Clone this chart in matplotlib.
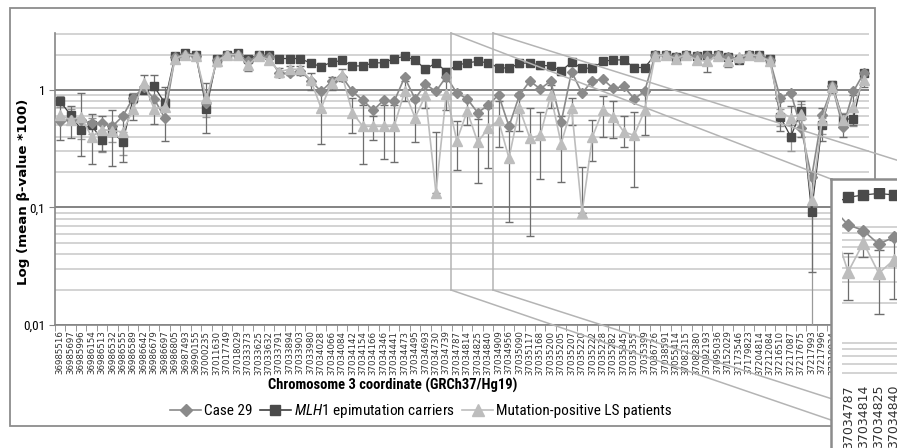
import matplotlib
matplotlib.use("Agg")
import matplotlib.pyplot as plt
import numpy as np
from matplotlib.lines import Line2D
from matplotlib.patches import Rectangle
from matplotlib.ticker import FixedLocator, LogLocator, NullFormatter

plt.rcParams['font.family'] = ['Roboto Condensed', 'Lato', 'DejaVu Sans']
plt.rcParams['mathtext.fontset'] = 'custom'
plt.rcParams['mathtext.it'] = 'Roboto Condensed:italic'
plt.rcParams['mathtext.rm'] = 'Roboto Condensed'

# CpG positions on chromosome 3 (last four are hidden behind the zoom box)
coords = [36985516, 36985697, 36985996, 36986154, 36986513, 36986532, 36986555, 36986589,
          36986642, 36986679, 36986697, 36986805, 36987493, 36990155, 37000235, 37011630,
          37017749, 37018029, 37033373, 37033625, 37033632, 37033791, 37033894, 37033903,
          37033980, 37034028, 37034066, 37034084, 37034142, 37034154, 37034166, 37034346,
          37034441, 37034473, 37034495, 37034693, 37034730, 37034739, 37034787, 37034814,
          37034825, 37034840, 37034909, 37034956, 37035090, 37035117, 37035168, 37035200,
          37035205, 37035207, 37035220, 37035222, 37035228, 37035282, 37035345, 37035355,
          37035399, 37036726, 37038591, 37055414, 37082315, 37082380, 37092193, 37095036,
          37152029, 37173546, 37179823, 37204814, 37212084, 37216510, 37217087, 37217675,
          37217993, 37217996, 37218034, 37218082, 37218105, 37218187]

case29 = [0.54, 0.56, 0.55, 0.52, 0.52, 0.49, 0.60, 0.86, 1.05, 0.84, 0.58, 1.9, 2.0, 1.95,
          0.77, 1.8, 2.0, 2.0, 1.75, 1.95, 1.9, 1.38, 1.38, 1.45, 1.2, 0.97, 1.18, 1.3, 0.97,
          0.82, 0.67, 0.82, 0.80, 1.28, 0.84, 1.12, 0.97, 1.3, 0.94, 0.84, 0.64, 0.74, 0.91,
          0.49, 0.90, 1.19, 1.02, 1.19, 0.53, 1.43, 0.94, 1.2, 1.23, 1.03, 1.07, 0.84, 0.97,
          1.98, 1.98, 1.9, 2.0, 1.93, 1.95, 1.98, 1.9, 1.85, 2.0, 1.95, 1.8, 0.85, 0.95, 0.47,
          0.18, 0.61, 1.07, 0.48, 0.97, 1.39]

mlh1 = [0.80, 0.61, 0.46, 0.50, 0.375, 0.44, 0.36, 0.86, 1.0, 1.07, 0.78, 1.95, 2.05, 2.0,
        0.69, 1.83, 2.0, 2.05, 1.85, 1.97, 1.97, 1.85, 1.85, 1.85, 1.69, 1.58, 1.72, 1.78,
        1.6, 1.6, 1.7, 1.7, 1.85, 1.93, 1.8, 1.5, 1.7, 1.43, 1.62, 1.7, 1.75, 1.7, 1.55,
        1.53, 1.68, 1.7, 1.62, 1.6, 1.45, 1.72, 1.53, 1.53, 1.75, 1.8, 1.8, 1.55, 1.55,
        1.98, 1.98, 1.9, 2.0, 1.93, 1.97, 1.98, 1.92, 1.8, 2.0, 1.97, 1.85, 0.59, 0.40,
        0.66, 0.092, 0.50, 1.1, 0.56, 0.57, 1.4]
mlh1_err = [0.08] * 11 + [0.1] * 61 + [0.085] + [0.08] * 5

lsp = [0.61, 0.555, 0.59, 0.40, 0.46, 0.45, 0.44, 0.69, 1.15, 0.69, 0.72, 1.85, 2.0, 1.95,
       0.85, 1.75, 2.0, 2.0, 1.63, 1.95, 1.8, 1.43, 1.5, 1.5, 1.22, 0.70, 1.15, 1.34, 0.64,
       0.49, 0.49, 0.49, 0.49, 0.97, 0.58, 0.9, 0.134, 0.93, 0.37, 0.66, 0.36, 0.47, 0.55,
       0.263, 0.70, 0.39, 0.41, 0.9, 0.35, 0.70, 0.09, 0.40, 0.67, 0.59, 0.44, 0.41, 0.67,
       1.95, 1.98, 1.85, 2.0, 1.8, 1.75, 1.95, 1.75, 1.9, 2.0, 1.95, 1.75, 0.65, 0.58, 0.63,
       0.116, 0.55, 1.05, 0.55, 0.72, 1.22]
lsp_lo = [0.375, 0.39, 0.275, 0.235, 0.30, 0.225, 0.245, 0.55, 0.95, 0.51, 0.37, 1.75, 1.9,
          1.85, 0.43, 1.6, 1.9, 1.9, 1.45, 1.85, 1.7, 1.3, 1.35, 1.35, 1.0, 0.35, 1.0, 1.2,
          0.43, 0.235, 0.375, 0.26, 0.245, 0.8, 0.36, 0.7, 0.134, 0.67, 0.21, 0.5, 0.16,
          0.217, 0.33, 0.075, 0.45, 0.057, 0.175, 0.7, 0.166, 0.5, 0.09, 0.25, 0.40, 0.39,
          0.33, 0.15, 0.41, 1.85, 1.88, 1.75, 1.9, 1.7, 1.42, 1.85, 1.57, 1.8, 1.9, 1.85,
          1.62, 0.45, 0.37, 0.40, 0.028, 0.37, 0.95, 0.4, 0.5, 1.05]
lsp_hi = [0.75, 0.73, 0.95, 0.63, 0.6, 0.68, 0.62, 0.85, 1.35, 1.35, 1.05, 1.95, 2.1, 2.05,
          1.15, 1.85, 2.1, 2.1, 1.8, 2.05, 1.9, 1.55, 1.6, 1.6, 1.4, 1.0, 1.3, 1.5, 0.85,
          0.75, 0.6, 0.75, 0.75, 1.2, 0.8, 1.1, 0.44, 1.2, 0.54, 0.8, 0.57, 0.7, 0.8, 0.45,
          0.95, 0.7, 0.65, 1.1, 0.6, 0.85, 0.22, 0.55, 0.89, 0.8, 0.6, 0.65, 0.95, 2.05,
          2.08, 1.95, 2.1, 1.9, 2.0, 2.05, 1.9, 2.0, 2.1, 2.05, 1.85, 0.8, 0.73, 0.8, 0.2,
          0.7, 1.15, 0.62, 0.9, 1.4]

W, H = 897, 448


def px_box(x0, y0, x1, y1):
    return [x0 / W, 1 - y1 / H, (x1 - x0) / W, (y1 - y0) / H]


def fx(x):
    return x / W


def fy(y):
    return 1 - y / H


def draw_series(ax, ms_scale=1.0):
    x = np.arange(len(coords))
    ax.errorbar(x, mlh1, yerr=mlh1_err, fmt='none', ecolor='#9a9a9a', elinewidth=0.9,
                capsize=3 * ms_scale, zorder=3)
    lo = np.array(lsp) - np.array(lsp_lo)
    hi = np.array(lsp_hi) - np.array(lsp)
    ax.errorbar(x, lsp, yerr=[lo, hi], fmt='none', ecolor='#6e6e6e', elinewidth=0.9,
                capsize=3 * ms_scale, zorder=3)
    ax.plot(x, mlh1, color='#404040', lw=0.9, marker='s', ms=5.5 * ms_scale,
            mfc='#4a4a4a', mec='#4a4a4a', zorder=4)
    ax.plot(x, case29, color='#8a8a8a', lw=1.2, marker='D', ms=5 * ms_scale,
            mfc='#8a8a8a', mec='#8a8a8a', zorder=5)
    ax.plot(x, lsp, color='#bdbdbd', lw=1.2, marker='^', ms=7 * ms_scale,
            mfc='#bdbdbd', mec='#bdbdbd', zorder=6)


def style_grid(ax):
    ax.set_yscale('log')
    ax.yaxis.set_major_locator(FixedLocator([0.01, 0.1, 1]))
    ax.yaxis.set_minor_locator(LogLocator(base=10, subs=np.arange(2, 10)))
    ax.yaxis.set_minor_formatter(NullFormatter())
    ax.grid(True, axis='y', which='major', color='#7a7a7a', lw=1.3, zorder=0)
    ax.grid(True, axis='y', which='minor', color='#c8c8c8', lw=1.1, zorder=0)
    ax.tick_params(axis='y', which='minor', length=0)


fig = plt.figure(figsize=(W / 100, H / 100), dpi=100)

# outer chart frame
fig.add_artist(Rectangle((fx(10), fy(426)), fx(875) - fx(10), fy(8) - fy(426),
                         fill=False, ec='#8c8c8c', lw=1.3, zorder=0))

ax = fig.add_axes(px_box(55, 33, 869, 325))
ax.set_zorder(1)
ax.patch.set_alpha(0)
draw_series(ax)
style_grid(ax)
ax.set_ylim(0.01, 3.05)
ax.set_yticklabels(['0,01', '0,1', '1'], fontsize=9.5)
ax.tick_params(axis='y', which='major', length=4, color='#868686', pad=3)
ax.set_xticks(np.arange(len(coords)))
ax.set_xticklabels([str(c) for c in coords], rotation=90, fontsize=6.2,
                   family='DejaVu Sans', color='#303030')
ax.set_xticks(np.arange(len(coords) + 1) - 0.5, minor=True)
ax.set_xlim(-0.5, len(coords) - 0.5)
ax.tick_params(axis='x', which='major', length=0, pad=4)
ax.tick_params(axis='x', which='minor', length=4, color='#868686')
for s in ['top', 'right']:
    ax.spines[s].set_visible(False)
for s in ['left', 'bottom']:
    ax.spines[s].set_color('#868686')
    ax.spines[s].set_linewidth(1.2)

fig.text(fx(24), fy(192), 'Log (mean \u03b2-value *100)', rotation=90, ha='center',
         va='center', fontsize=9.6, fontweight='bold', family='DejaVu Sans')
fig.text(fx(393), fy(385), 'Chromosome 3 coordinate (GRCh37/Hg19)', ha='center',
         va='center', fontsize=10.5, fontweight='bold')

handles = [
    Line2D([], [], color='#8a8a8a', lw=1.2, marker='D', ms=6, mfc='#8a8a8a', mec='#8a8a8a'),
    Line2D([], [], color='#404040', lw=1.2, marker='s', ms=6.5, mfc='#4a4a4a', mec='#4a4a4a'),
    Line2D([], [], color='#bdbdbd', lw=1.2, marker='^', ms=9, mfc='#bdbdbd', mec='#bdbdbd'),
]
labels = ['Case 29', r'$\mathit{MLH1}$ epimutation carriers', 'Mutation-positive LS patients']
fig.legend(handles, labels, loc='center', bbox_to_anchor=(fx(421), fy(411)), ncol=3,
           frameon=False, fontsize=11, handlelength=2.0, handletextpad=0.2,
           columnspacing=0.5)

# zoom callout: rectangle and connector lines
for x in [451, 493]:
    fig.add_artist(Line2D([fx(x), fx(x)], [fy(33), fy(290)], color='#b4b4b4', lw=1.1, zorder=2))
for (x0, y0, x1, y1) in [(451, 33, 831, 179), (493, 33, 960, 180),
                         (451, 290, 831, 420), (493, 290, 960, 440)]:
    fig.add_artist(Line2D([fx(x0), fx(x1)], [fy(y0), fy(y1)], color='#b4b4b4', lw=1.1, zorder=2))

# zoomed inset
frame = fig.add_axes(px_box(831, 179, 970, 470))
frame.set_zorder(3)
frame.set_xticks([])
frame.set_yticks([])
for s in frame.spines.values():
    s.set_color('#8c8c8c')
    s.set_linewidth(1.8)

ins = fig.add_axes(px_box(842, 188, 970, 378))
ins.set_zorder(4)
ins.patch.set_alpha(0)
draw_series(ins, ms_scale=1.2)
style_grid(ins)
ins.set_ylim(0.0452, 1.95)
ins.set_yticks([])
shown = np.arange(38, 46)
ins.set_xticks(shown)
ins.set_xticklabels([str(coords[i]) for i in shown], rotation=90, fontsize=9,
                    family='DejaVu Sans', color='#303030')
ins.set_xlim(37.6, 37.6 + 128 / 15.3)
ins.tick_params(axis='x', length=0, pad=5)
for s in ins.spines.values():
    s.set_visible(False)

fig.savefig('out.png', dpi=100)
